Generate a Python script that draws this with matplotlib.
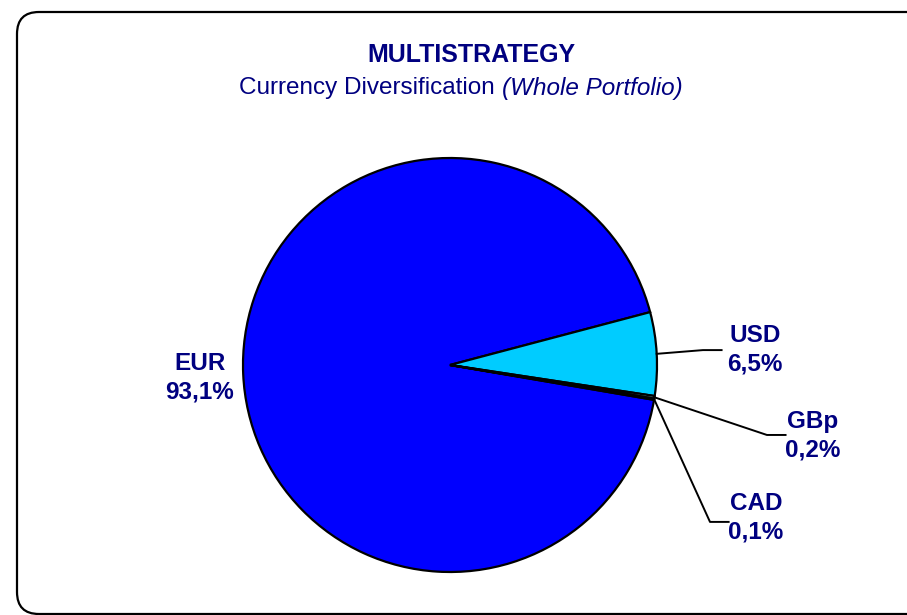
import matplotlib.pyplot as plt
import numpy as np
from matplotlib.patches import FancyBboxPatch
from matplotlib.transforms import IdentityTransform

# Datos
currencies = ["EUR", "USD", "GBp", "CAD"]
shares = [93.1, 6.5, 0.2, 0.1]
share_labels = ["93,1%", "6,5%", "0,2%", "0,1%"]
colors = ["#0000FF", "#00CCFF", "#99CCCC", "#333399"]

title = "MULTISTRATEGY"
subtitle = "Currency Diversification "
subtitle_it = "(Whole Portfolio)"

navy = "#000080"
plt.rcParams['font.family'] = ['Liberation Sans', 'DejaVu Sans']

W, H = 907, 615
fig = plt.figure(figsize=(W / 100, H / 100), dpi=100)

# marco redondeado
frame = FancyBboxPatch((17, 1), 930 - 17, 602,
                       boxstyle="round,pad=0,rounding_size=22",
                       transform=IdentityTransform(),
                       facecolor="none", edgecolor="black", linewidth=1.6)
fig.add_artist(frame)

# ejes del pastel (centro 450,365 px; radio 207 px)
cx, cy, r = 450, 365, 207
ax = fig.add_axes([(cx - r) / W, (H - cy - r) / H, 2 * r / W, 2 * r / H])
wedges, _ = ax.pie(shares, colors=colors, startangle=350.3, counterclock=False,
                   radius=1, wedgeprops=dict(edgecolor="black", linewidth=1.6))
ax.set_xlim(-1, 1)
ax.set_ylim(-1, 1)
ax.axis("off")

# posiciones de etiquetas (unidades de radio)
label_pos = [(-1.21, -0.063), (1.473, 0.072), (1.754, -0.343), (1.478, -0.739)]
elbows = [None, (1.222, 0.072), (1.531, -0.338), (1.256, -0.758)]

for w, name, pct, pos, elb in zip(wedges, currencies, share_labels, label_pos, elbows):
    ax.text(pos[0], pos[1], name + "\n" + pct, ha="center", va="center",
            fontsize=17.5, fontweight="bold", color=navy, linespacing=1.3)
    if elb is not None:
        ang = np.deg2rad((w.theta1 + w.theta2) / 2)
        x0, y0 = np.cos(ang), np.sin(ang)
        ax.plot([x0, elb[0], elb[0] + 0.09], [y0, elb[1], elb[1]],
                color="black", linewidth=1.4, clip_on=False)

# título
fig.text(471 / W, 1 - 55 / H, title, ha="center", va="center",
         fontsize=18, fontweight="bold", color=navy)

# subtítulo con parte en cursiva
renderer = fig.canvas.get_renderer()
t1 = fig.text(0, 1 - 88 / H, subtitle, ha="left", va="center",
              fontsize=17.5, color=navy)
t2 = fig.text(0, 1 - 88 / H, subtitle_it, ha="left", va="center",
              fontsize=17.5, color=navy, style="italic")
w1 = t1.get_window_extent(renderer).width
w2 = t2.get_window_extent(renderer).width
x_start = 461 - (w1 + w2) / 2
t1.set_x(x_start / W)
t2.set_x((x_start + w1) / W)

plt.savefig("out.png", dpi=100)
